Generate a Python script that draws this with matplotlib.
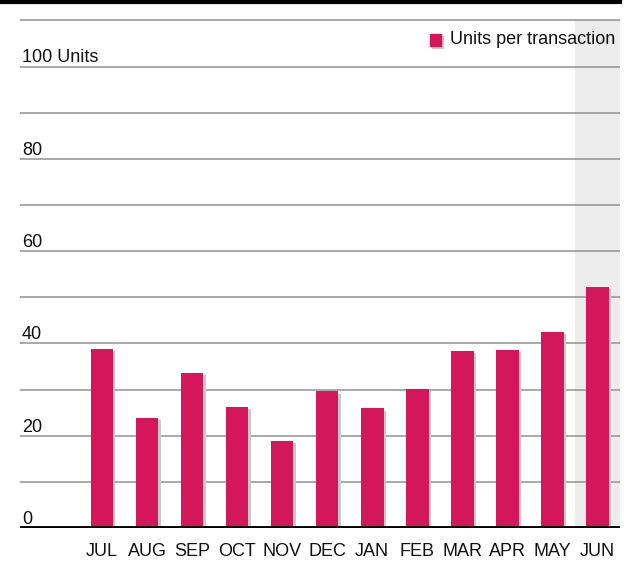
import numpy as np
import matplotlib.pyplot as plt
from matplotlib.lines import Line2D
from matplotlib.patches import Rectangle

plt.rcParams['font.family'] = ['Liberation Sans', 'DejaVu Sans']

months = ['JUL', 'AUG', 'SEP', 'OCT', 'NOV', 'DEC', 'JAN', 'FEB', 'MAR', 'APR', 'MAY', 'JUN']
units = [38.9, 23.8, 33.7, 26.2, 18.8, 29.6, 25.9, 30.1, 38.3, 38.5, 42.4, 52.3]
ylabels = ['0', '20', '40', '60', '80', '100 Units']

bar_color = '#d4175a'
shadow = '#c8c8c8'

fig = plt.figure(figsize=(6.41, 5.63), dpi=100)
ax = fig.add_axes([20/641, 35/563, 600/641, 526/563])
x = np.arange(len(months))

# highlight last month
ax.axvspan(x[-1] - 0.5, x[-1] + 0.5, ymin=0, ymax=110/114, color='#ececec', zorder=0, lw=0)

for v in range(10, 111, 10):
    ax.axhline(v, color='#999999', lw=1.2, zorder=1)
for i, lab in enumerate(ylabels):
    ax.text(-1.78, i*20 + 0.9, lab, fontsize=13, color='#111111', ha='left', va='baseline', zorder=3)

ax.bar(x + 0.05, np.array(units) - 0.45, width=0.5, color=shadow, zorder=2)
ax.bar(x, units, width=0.5, color=bar_color, zorder=3)
ax.axhline(0, color='black', lw=3.5, zorder=4)

ax.set_xlim(-1.82, 11.5)
ax.set_ylim(0, 114)
ax.set_xticks(x)
ax.set_xticklabels(months, fontsize=13, color='#111111')
ax.tick_params(axis='x', length=0, pad=11)
ax.set_yticks([])
for s in ax.spines.values():
    s.set_visible(False)

# legend
fig.add_artist(Rectangle((432/641, 1 - 48/563), 11/641, 12/563, color=shadow, transform=fig.transFigure))
fig.add_artist(Rectangle((430/641, 1 - 46/563), 11/641, 12/563, color=bar_color, transform=fig.transFigure))
fig.text(450/641, 1 - 40/563, 'Units per transaction', fontsize=13, color='#111111', va='center', ha='left')

fig.add_artist(Line2D([0, 620/641], [1 - 2/563, 1 - 2/563], color='black', lw=3, transform=fig.transFigure))

fig.savefig('out.png', dpi=100, facecolor='white')
